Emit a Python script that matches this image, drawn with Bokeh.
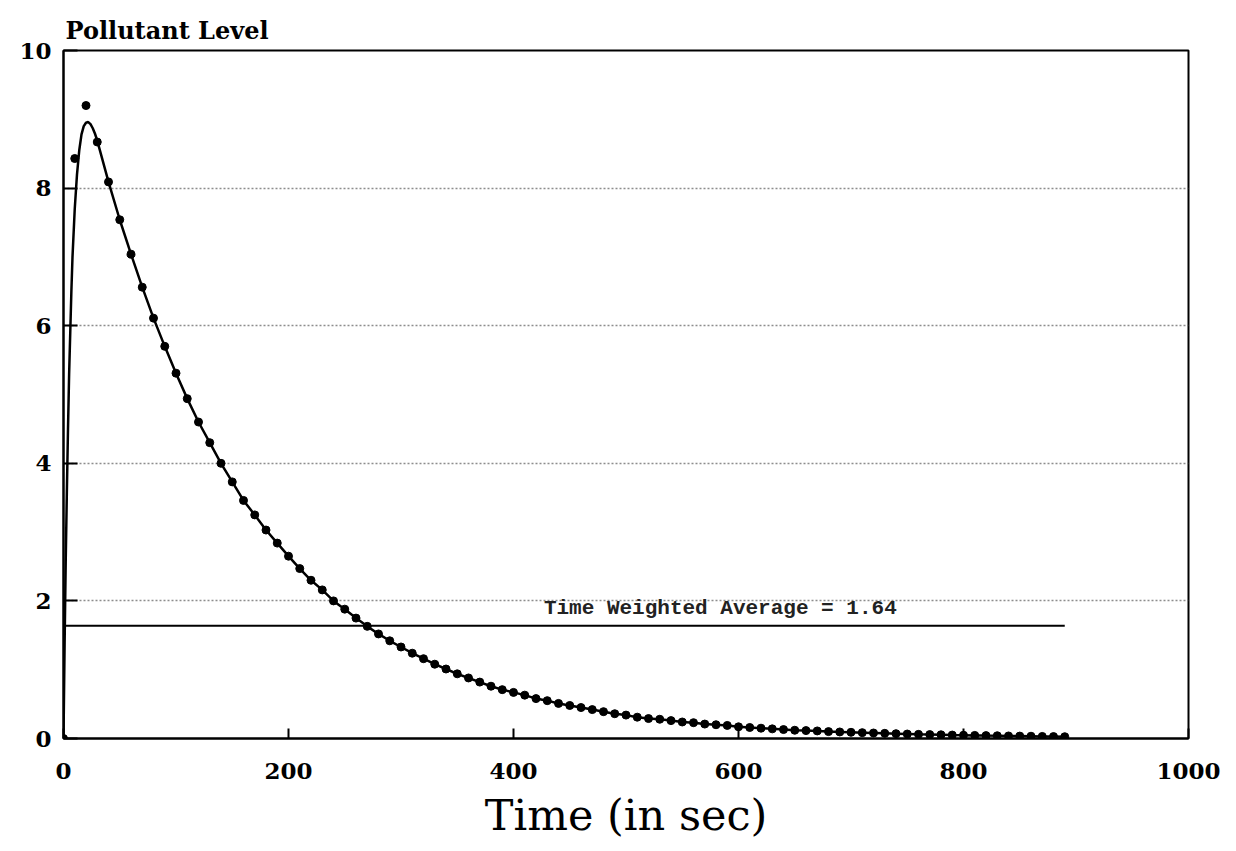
from bokeh.plotting import figure
from bokeh.models import Range1d, FixedTicker, Label
from bokeh.embed import file_html
from bokeh.resources import INLINE

# measured pollutant level, one sample every 10 s
sample_t = list(range(0, 900, 10))
sample_level = [
    0.00, 8.43, 9.20, 8.67, 8.09, 7.54, 7.04, 6.56, 6.11, 5.70,
    5.31, 4.94, 4.60, 4.30, 4.00, 3.73, 3.46, 3.25, 3.03, 2.84,
    2.65, 2.47, 2.30, 2.16, 2.00, 1.88, 1.75, 1.63, 1.52, 1.42,
    1.33, 1.24, 1.16, 1.08, 1.01, 0.94, 0.88, 0.82, 0.76, 0.71,
    0.67, 0.63, 0.58, 0.55, 0.51, 0.48, 0.45, 0.42, 0.39, 0.36,
    0.34, 0.31, 0.29, 0.28, 0.26, 0.24, 0.23, 0.21, 0.20, 0.19,
    0.17, 0.16, 0.15, 0.14, 0.13, 0.12, 0.115, 0.11, 0.10, 0.095,
    0.09, 0.085, 0.08, 0.075, 0.07, 0.065, 0.06, 0.057, 0.054, 0.05,
    0.048, 0.045, 0.042, 0.04, 0.037, 0.035, 0.033, 0.03, 0.028, 0.026,
]

fit_rise_t = [0, 1, 2, 3, 4, 5, 6, 7, 8, 10, 12, 14, 16, 18, 20, 22, 24, 26, 28, 30]
fit_rise_level = [0, 1.4, 2.6, 3.6, 4.5, 5.3, 5.9, 6.5, 7.0, 7.7, 8.2, 8.55, 8.78,
                  8.9, 8.95, 8.96, 8.93, 8.87, 8.79, 8.69]

twa_value = 1.64
twa_text = "Time Weighted Average = 1.64"

x_ticks = [0, 200, 400, 600, 800, 1000]
y_ticks = [0, 2, 4, 6, 8, 10]

fit_t = fit_rise_t + [t for t in sample_t if t > 30]
fit_level = fit_rise_level + [v for t, v in zip(sample_t, sample_level) if t > 30]

p = figure(width=1230, height=842, output_backend="svg", toolbar_location=None,
           x_range=Range1d(0, 1000), y_range=Range1d(0, 10),
           min_border_left=63, min_border_right=42, min_border_top=50, min_border_bottom=102,
           title="Pollutant Level")

p.title.text_font = "DejaVu Serif"
p.title.text_font_style = "bold"
p.title.text_font_size = "24px"
p.title.text_color = "black"
p.title.align = "left"
p.title.offset = 2
p.title.standoff = 12

p.outline_line_color = "black"
p.outline_line_width = 2
p.background_fill_color = "white"
p.border_fill_color = "white"

p.xgrid.visible = False
p.ygrid.ticker = FixedTicker(ticks=[2, 4, 6, 8])
p.ygrid.grid_line_color = "#707070"
p.ygrid.grid_line_dash = "2 2"
p.ygrid.grid_line_width = 1.5
p.ygrid.grid_line_alpha = 0.8

for ax in (p.xaxis[0], p.yaxis[0]):
    ax.axis_line_color = "black"
    ax.axis_line_width = 2
    ax.major_tick_line_color = "black"
    ax.major_tick_line_width = 2
    ax.minor_tick_line_color = None
    ax.major_tick_out = 0
    ax.major_label_text_font = "DejaVu Serif"
    ax.major_label_text_font_style = "bold"
    ax.major_label_text_font_size = "23px"
    ax.major_label_text_color = "black"

p.xaxis.ticker = FixedTicker(ticks=x_ticks)
p.yaxis.ticker = FixedTicker(ticks=y_ticks)
p.xaxis.major_tick_in = 10
p.yaxis.major_tick_in = 14
p.xaxis.major_label_standoff = 24
p.yaxis.major_label_standoff = 12

p.xaxis.axis_label = "Time (in sec)"
p.xaxis.axis_label_text_font = "DejaVu Serif"
p.xaxis.axis_label_text_font_style = "normal"
p.xaxis.axis_label_text_font_size = "43px"
p.xaxis.axis_label_text_color = "black"
p.xaxis.axis_label_standoff = 8

# time weighted average line
p.line([sample_t[0], sample_t[-1]], [twa_value, twa_value], line_color="black", line_width=2)
p.add_layout(Label(x=427, y=twa_value + 0.08, text=twa_text,
                   text_font="Liberation Mono", text_font_style="bold",
                   text_font_size="21px", text_color="#222222"))

# fitted curve and samples
p.line(fit_t, fit_level, line_color="black", line_width=2.5)
p.scatter(sample_t, sample_level, size=8, color="black")

open("out.html", "w").write(file_html(p, INLINE))
